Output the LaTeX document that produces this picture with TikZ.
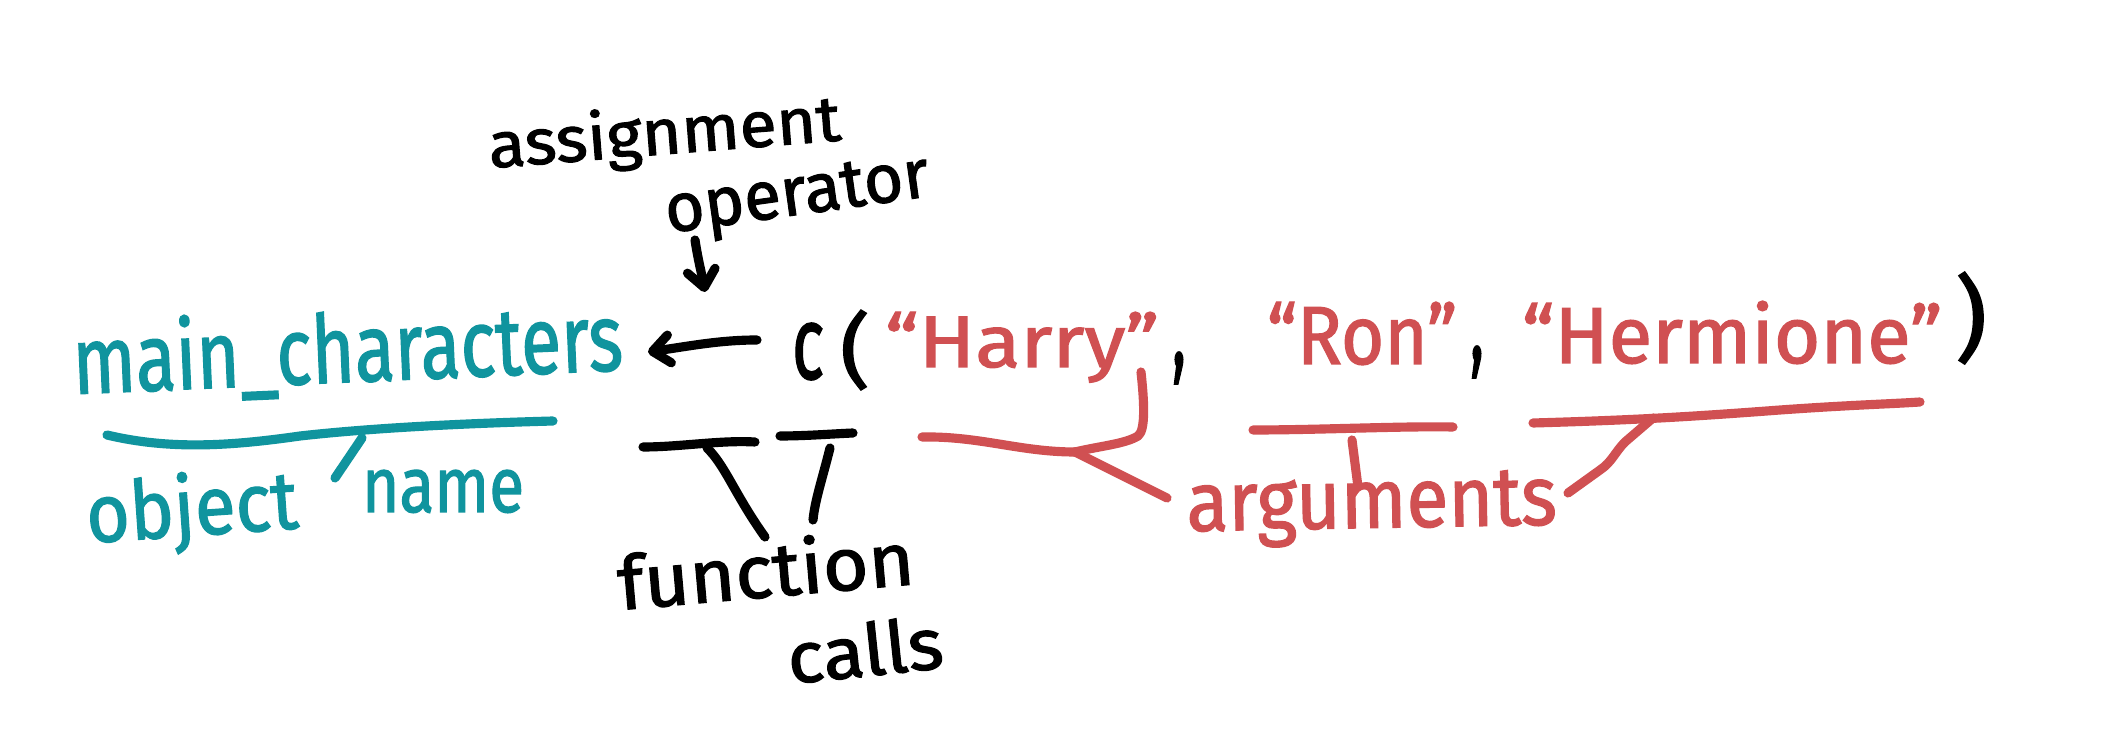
\documentclass[tikz,border=0pt]{standalone}
\usepackage{fontspec}
\setmainfont{Fira Sans}
\newfontfamily\handfont{Fira Sans}[FakeBold=1.6]
\usepackage{graphicx}
\usetikzlibrary{arrows.meta}
\definecolor{tealink}{RGB}{16,148,158}
\definecolor{redink}{RGB}{208,80,82}
\newcommand{\hw}[3]{\resizebox{#1}{#2}{#3}}
\newcommand{\hwt}[3]{\resizebox*{#1}{#2}{#3}}
\begin{document}
\begin{tikzpicture}[x=0.01cm,y=-0.01cm,
  lbl/.style={inner sep=0pt, outer sep=0pt, anchor=base west, font=\handfont},
  glyph/.style={inner sep=0pt, outer sep=0pt, anchor=north west, font=\handfont},
  pen/.style={line width=2.6pt, line cap=round, line join=round},
  tealpen/.style={pen, draw=tealink},
  redpen/.style={pen, draw=redink},
  blackpen/.style={pen, draw=black},
  barb/.style={-{Straight Barb[round,length=0.17cm,width=0.28cm]}}
]
\fill[white] (0,0) rectangle (2121,731);
\useasboundingbox (0,0) rectangle (2121,731);

% ---- texts ----
\node[lbl, rotate=2.5, text=tealink] (mc) at (74,394) {\hw{5.50cm}{0.74cm}{main\_characters}};
\node[lbl, rotate=4, text=tealink] (obj) at (88,543) {\hw{2.12cm}{0.64cm}{object}};
\node[lbl, text=tealink] (nm) at (362,512) {\hw{1.62cm}{0.42cm}{name}};

\node[lbl, rotate=4.5] (asg) at (490,168) {\hw{3.53cm}{0.50cm}{assignment}};
\node[lbl, rotate=8] (op) at (668,233) {\hw{2.66cm}{0.45cm}{operator}};

\node[glyph] (c) at (792,323) {\hwt{0.32cm}{0.57cm}{c}};
\node[glyph] (lp) at (840,310) {\hwt{0.30cm}{0.80cm}{(}};
\node[lbl, text=redink] (harry) at (885,367) {\hw{2.74cm}{0.55cm}{“Harry”}};
\node[glyph] (cm1) at (1172,352) {\hwt{0.14cm}{0.32cm}{,}};
\node[lbl, text=redink] (ron) at (1267,364) {\hw{1.90cm}{0.62cm}{“Ron”}};
\node[glyph] (cm2) at (1470,346) {\hwt{0.14cm}{0.32cm}{,}};
\node[lbl, text=redink] (herm) at (1522,363) {\hw{4.20cm}{0.62cm}{“Hermione”}};
\node[glyph] (rp) at (1955,272) {\hwt{0.32cm}{0.92cm}{)}};

\node[lbl, rotate=5] (fn) at (620,610) {\hw{2.97cm}{0.58cm}{function}};
\node[lbl, rotate=6] (calls) at (790,684) {\hw{1.56cm}{0.54cm}{calls}};
\node[lbl, rotate=1, text=redink] (args) at (1187,531) {\hw{3.70cm}{0.55cm}{arguments}};

% ---- coordinates ----
\coordinate (a1s) at (695,240);
\coordinate (a1e) at (705,292);
\coordinate (a2s) at (757,340);
\coordinate (a2e) at (648,352);

\coordinate (tu1) at (107,435);
\coordinate (tu2) at (553,421);
\coordinate (tk1) at (362,438);
\coordinate (tk2) at (335,478);

\coordinate (bu1) at (643,447);
\coordinate (bu2) at (755,442);
\coordinate (bv1) at (780,436);
\coordinate (bv2) at (853,433);
\coordinate (bl1) at (707,448);
\coordinate (bl2) at (765,537);
\coordinate (br1) at (830,448);
\coordinate (br2) at (813,520);

\coordinate (hy1) at (1141,372);
\coordinate (hb0) at (922,437);
\coordinate (hbc) at (1075,452);
\coordinate (hp) at (1167,498);

\coordinate (ru1) at (1253,430);
\coordinate (ru2) at (1453,427);
\coordinate (rt1) at (1352,440);
\coordinate (rt2) at (1358,487);

\coordinate (eu1) at (1533,423);
\coordinate (eu2) at (1920,402);
\coordinate (ep1) at (1653,418);
\coordinate (ep2) at (1568,493);

% ---- black strokes ----
\draw[blackpen, barb] (a1s) .. controls (698,260) and (702,275) .. (a1e);
\draw[blackpen, barb] (a2s) .. controls (720,340) and (690,346) .. (a2e);
\draw[blackpen] (bu1) .. controls (680,447) and (720,440) .. (bu2);
\draw[blackpen] (bv1) .. controls (805,436) and (830,434) .. (bv2);
\draw[blackpen] (bl1) .. controls (725,465) and (735,495) .. (bl2);
\draw[blackpen] (br1) .. controls (822,480) and (815,500) .. (br2);

% ---- teal strokes ----
\draw[tealpen] (tu1) .. controls (170,450) and (230,446) .. (300,436) .. controls (380,427) and (480,423) .. (tu2);
\draw[tealpen] (tk1) -- (tk2);

% ---- red strokes ----
\draw[redpen] (hy1) .. controls (1144,400) and (1146,430) .. (1138,436) .. controls (1125,444) and (1100,446) .. (hbc);
\draw[redpen] (hb0) .. controls (980,436) and (1020,452) .. (hbc);
\draw[redpen] (hbc) -- (hp);
\draw[redpen] (ru1) .. controls (1320,430) and (1400,426) .. (ru2);
\draw[redpen] (rt1) -- (rt2);
\draw[redpen] (eu1) .. controls (1640,420) and (1700,416) .. (1780,410) .. controls (1850,405) and (1890,404) .. (eu2);
\draw[redpen] (ep1) -- (1625,442) .. controls (1615,452) and (1612,462) .. (1600,470) -- (ep2);
\end{tikzpicture}
\end{document}
